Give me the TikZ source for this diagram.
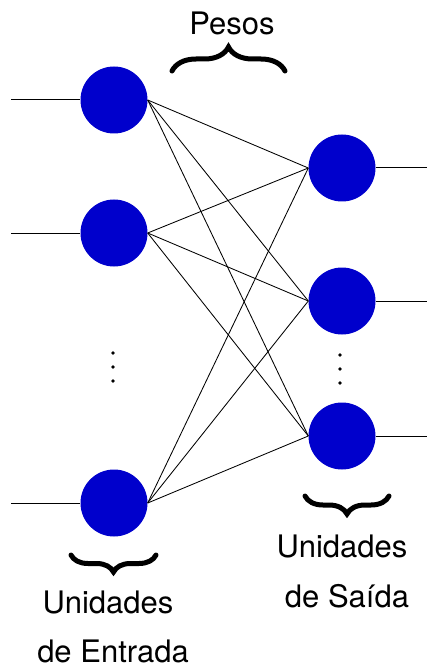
\documentclass[tikz,border=0pt]{standalone}
\usepackage{fontspec}
\setmainfont{TeX Gyre Heros}
\usetikzlibrary{decorations.pathreplacing}
\definecolor{unitblue}{RGB}{0,0,204}
\tikzset{
  unit/.style={circle,fill=unitblue,minimum size=67pt,inner sep=0pt},
  wire/.style={line width=1pt},
  weight/.style={line width=0.85pt},
  lbl/.style={font=\fontsize{31}{31}\selectfont,anchor=base,inner sep=0pt},
  bracedec/.style={decorate,decoration={brace,amplitude=#1},line width=5pt,line cap=round},
  dotmark/.style={fill=black}
}
\begin{document}
\begin{tikzpicture}[x=1pt,y=-1pt]
\useasboundingbox (0,0) rectangle (427,668);
% input units
\node[unit] (i1) at (114,100) {};
\node[unit] (i2) at (114,233) {};
\node[unit] (i3) at (114,503) {};
% output units
\node[unit] (o1) at (342,168) {};
\node[unit] (o2) at (342,301) {};
\node[unit] (o3) at (342,436) {};
% input lines
\coordinate (a1) at (11,100);
\coordinate (a2) at (11,233);
\coordinate (a3) at (11,503);
\draw[wire] (a1) -- (i1.west);
\draw[wire] (a2) -- (i2.west);
\draw[wire] (a3) -- (i3.west);
% output lines
\coordinate (b1) at (427,168);
\coordinate (b2) at (427,301);
\coordinate (b3) at (427,436);
\draw[wire] (o1.east) -- (b1);
\draw[wire] (o2.east) -- (b2);
\draw[wire] (o3.east) -- (b3);
% weights
\foreach \i in {i1,i2,i3}
  \foreach \o in {o1,o2,o3}
    \draw[weight] (\i.east) -- (\o.west);
% dots
\foreach \y in {353,367,381} \fill[dotmark] (113,\y) circle (1.9pt);
\foreach \y in {355,369,383} \fill[dotmark] (340,\y) circle (1.9pt);
% braces
\draw[bracedec=24pt] (172,71) -- (285,71);
\draw[bracedec=17pt] (156,555) -- (71,555);
\draw[bracedec=18pt] (389,496) -- (305,496);
% labels
\node[lbl] (pesos) at (232,35) {Pesos};
\node[lbl] (uin) at (108,613) {Unidades};
\node[lbl] (din) at (113,662) {de Entrada};
\node[lbl] (uout) at (342,557) {Unidades};
\node[lbl] (dout) at (347,607) {de Saída};
\end{tikzpicture}
\end{document}
